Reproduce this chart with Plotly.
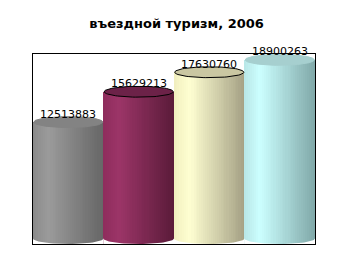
import numpy as np
import plotly.graph_objects as go

categories = ["1", "2", "3", "4"]
values = [12513883, 15629213, 17630760, 18900263]
labels = ["12513883", "15629213", "17630760", "18900263"]
title = "въездной туризм, 2006"

left_cols = ["#8a8a8a", "#8e2c5c", "#f0eebe", "#b8e6e6"]
hi_cols = ["#9b9b9b", "#9c3568", "#ffffd2", "#ccffff"]
right_cols = ["#666666", "#5a1b39", "#a4a084", "#80a8a8"]
top_cols = ["#838383", "#6c2248", "#cac7a2", "#a6cfcf"]
top_lines = [None, "#000000", "#000000", None]

YMAX = 19.5e6
EH = 0.56e6  # ellipse half-height in data units
K = 36


def hex2rgb(h):
    h = h.lstrip("#")
    return np.array([int(h[i:i + 2], 16) for i in (0, 2, 4)], float)


def lerp(a, b, t):
    c = hex2rgb(a) * (1 - t) + hex2rgb(b) * t
    return "rgb(%d,%d,%d)" % tuple(np.round(c))


xs, ys, ws, cs = [], [], [], []
for i, v in enumerate(values):
    for k in range(K):
        t = (k + 0.5) / K
        if t < 0.22:
            col = lerp(left_cols[i], hi_cols[i], t / 0.22)
        else:
            col = lerp(hi_cols[i], right_cols[i], (t - 0.22) / 0.78)
        xs.append(i - 0.5 + t)
        ys.append(v)
        ws.append(1.0 / K * 1.02)
        cs.append(col)

fig = go.Figure()
fig.add_trace(go.Bar(x=xs, y=ys, width=ws, marker=dict(color=cs, line=dict(width=0)),
                     hoverinfo="skip", showlegend=False))

th = np.linspace(0, 2 * np.pi, 80)
for i, v in enumerate(values):
    ex = i + 0.49 * np.cos(th)
    ey = v + EH * np.sin(th)
    lc = top_lines[i]
    fig.add_trace(go.Scatter(x=ex, y=ey, mode="lines", fill="toself", fillcolor=top_cols[i],
                             line=dict(color=lc if lc else top_cols[i], width=1),
                             hoverinfo="skip", showlegend=False))
    # bottom white corners (curved cylinder base)
    ang = np.linspace(np.pi, 2 * np.pi, 40)
    bx = np.concatenate([[i - 0.5], i + 0.5 * np.cos(ang), [i + 0.5]])
    by = np.concatenate([[0], EH - EH * np.abs(np.sin(ang)), [0]])
    fig.add_trace(go.Scatter(x=bx, y=by, mode="lines", fill="toself", fillcolor="white",
                             line=dict(color="white", width=0),
                             hoverinfo="skip", showlegend=False))

for i, v in enumerate(values):
    fig.add_annotation(x=i, y=v, text=labels[i], showarrow=False,
                       yanchor="middle", yshift=8,
                       font=dict(family="DejaVu Sans", size=11, color="black"))

fig.update_layout(
    width=353, height=277,
    margin=dict(l=33, r=38, t=54, b=33),
    paper_bgcolor="white", plot_bgcolor="white",
    bargap=0, barmode="overlay",
    title=dict(text="<b>" + title + "</b>", x=0.5, xanchor="center", y=1 - 23 / 277, yanchor="middle",
               font=dict(family="DejaVu Sans", size=13, color="black")),
    xaxis=dict(range=[-0.5, 3.5], showticklabels=False, ticks="", showgrid=False, zeroline=False,
               showline=True, linecolor="black", linewidth=1, mirror=True, fixedrange=True),
    yaxis=dict(range=[0, YMAX], showticklabels=False, ticks="", showgrid=False, zeroline=False,
               showline=True, linecolor="black", linewidth=1, mirror=True, fixedrange=True),
)

fig.write_html("out.html")
